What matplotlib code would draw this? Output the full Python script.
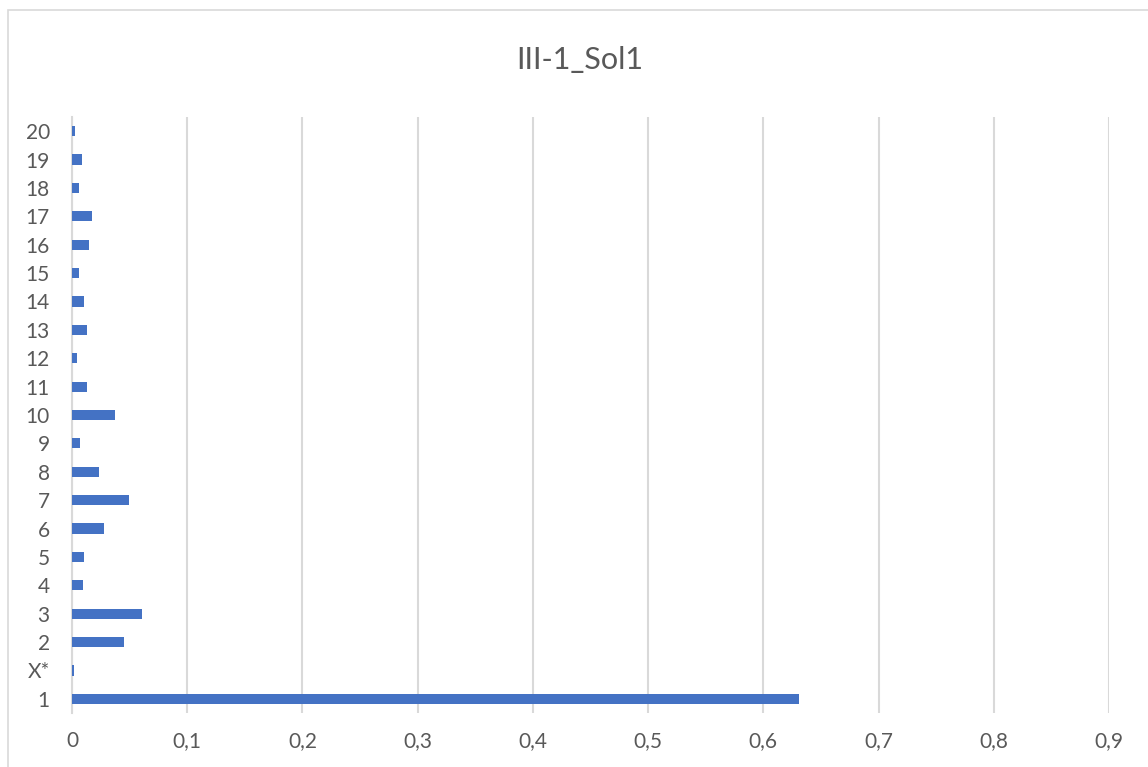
import matplotlib.pyplot as plt
from matplotlib.patches import Rectangle

plt.rcParams['font.family'] = ['Lato', 'DejaVu Sans']

# Categories bottom to top, as in the chart
categories = ['1', 'X*', '2', '3', '4', '5', '6', '7', '8', '9', '10',
              '11', '12', '13', '14', '15', '16', '17', '18', '19', '20']
values = [0.631, 0.0014, 0.0448, 0.0608, 0.0095, 0.0107, 0.0281, 0.0492, 0.0231, 0.0069, 0.037,
          0.013, 0.0041, 0.013, 0.0107, 0.0058, 0.0148, 0.0174, 0.0064, 0.0087, 0.0023]
x_ticks = [0, 0.1, 0.2, 0.3, 0.4, 0.5, 0.6, 0.7, 0.8, 0.9]
x_labels = ['0', '0,1', '0,2', '0,3', '0,4', '0,5', '0,6', '0,7', '0,8', '0,9']

text_color = '#595959'
grid_color = '#d9d9d9'

fig = plt.figure(figsize=(11.48, 7.67), dpi=100)
ax = fig.add_axes([72 / 1148, 1 - 713 / 767, (1109 - 72) / 1148, (713 - 117) / 767])

# chart border like the spreadsheet frame
fig.patches.append(Rectangle((8 / 1148, -0.01), 1.5, 1 - 10 / 767 + 0.01,
                             transform=fig.transFigure, fill=False,
                             edgecolor=grid_color, linewidth=1.2))

ypos = list(range(len(categories)))
ax.barh(ypos, values, height=0.36, color='#4472C4', zorder=3)

ax.set_xlim(0, 0.9)
ax.set_ylim(-0.5, len(categories) - 0.5)
ax.set_xticks(x_ticks)
ax.set_xticklabels(x_labels)
ax.set_yticks(ypos)
ax.set_yticklabels(categories)
ax.tick_params(axis='both', length=0, labelsize=15, colors=text_color)
ax.tick_params(axis='x', pad=13)
ax.tick_params(axis='y', pad=16)

ax.grid(axis='x', color=grid_color, linewidth=1.5, zorder=0)
for s in ['top', 'right', 'bottom']:
    ax.spines[s].set_visible(False)
ax.spines['left'].set_color(grid_color)
ax.spines['left'].set_linewidth(1.5)

fig.text(580 / 1148, 1 - 60 / 767, 'III-1_Sol1', ha='center', va='center',
         fontsize=22, color=text_color)

fig.savefig('out.png', dpi=100)
